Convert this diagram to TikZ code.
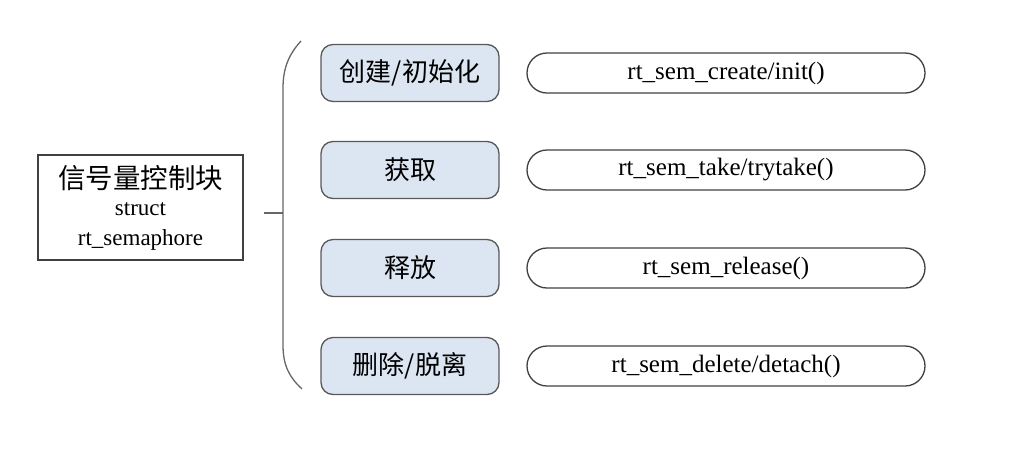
\documentclass[tikz,border=0pt]{standalone}
\usepackage{fontspec}
\setmainfont{Liberation Serif}
\newfontfamily\cjk{Noto Sans CJK SC}
\definecolor{midfill}{HTML}{DCE6F2}
\begin{document}
\begin{tikzpicture}[x=1pt,y=-1pt,
  leftbox/.style={draw=black!75,line width=1.2pt,minimum width=205pt,minimum height=105pt,inner sep=0pt,align=center},
  midbox/.style={draw=black!65,line width=1.3pt,fill=midfill,rounded corners=12pt,minimum width=178pt,minimum height=57pt,inner sep=0pt,font=\cjk\fontsize{26}{28}\selectfont},
  funcbox/.style={draw=black!75,line width=1.3pt,rounded corners=20pt,minimum width=398pt,minimum height=40pt,inner sep=0pt,font=\fontsize{25}{27}\selectfont},
  brace/.style={draw=black!60,line width=1.3pt}]
\useasboundingbox (0,0) rectangle (1031,456);
\node[leftbox] (blk) at (140.5,207.5) {};
\node (t1) at (140.5,178) {\cjk\fontsize{27.5}{30}\selectfont 信号量控制块};
\node (t2) at (140.5,209) {\fontsize{23}{25}\selectfont struct};
\node (t3) at (140.5,240) {\fontsize{23}{25}\selectfont rt\_semaphore};
\coordinate (bl) at (264,213);
\coordinate (bj) at (283,213);
\draw[brace] (bl) -- (bj);
\draw[brace] (301,41) .. controls (289,54) and (283,68) .. (283,88) -- (283,345) .. controls (283,365) and (289,377) .. (302,389);
\node[midbox] (m1) at (410,73) {创建/初始化};
\node[midbox] (m2) at (410,170) {获取};
\node[midbox] (m3) at (410,268) {释放};
\node[midbox] (m4) at (410,366) {删除/脱离};
\node[funcbox] (f1) at (726,73) {rt\_sem\_create/init()};
\node[funcbox] (f2) at (726,170) {rt\_sem\_take/trytake()};
\node[funcbox] (f3) at (726,268) {rt\_sem\_release()};
\node[funcbox] (f4) at (726,366) {rt\_sem\_delete/detach()};
\end{tikzpicture}
\end{document}
